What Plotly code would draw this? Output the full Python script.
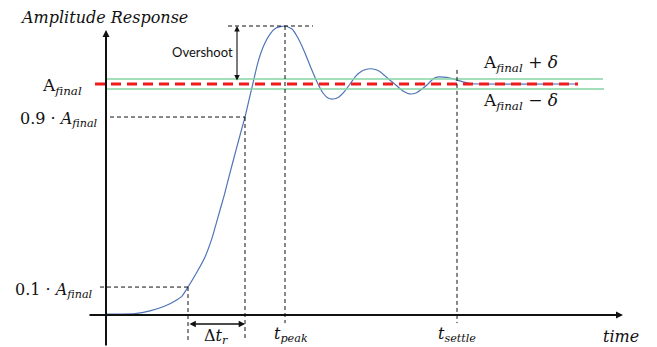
import plotly.graph_objects as go

# Step response curve (time in arbitrary units, amplitude normalised to A_final = 1)
time = [0, 1.4, 2.9, 4.4, 5.9, 6.9, 7.6, 8.2, 9.1, 9.9, 10.6, 11.2, 11.8, 12.4, 13.0,
        13.6, 13.9, 14.3, 14.7, 15.2, 15.8, 16.4, 17.0, 17.9, 18.6, 19.2, 19.9, 20.5,
        21.2, 21.7, 22.2, 22.7, 23.3, 23.9, 24.4, 25.0, 25.6, 26.2, 26.7, 27.3, 27.9,
        28.5, 29.1, 29.7, 30.4, 31.0, 31.6, 32.2, 32.7, 33.1, 33.7, 34.4, 35.1, 35.7,
        36.4, 37.4, 47.2]
amplitude = [0.004, 0.004, 0.006, 0.018, 0.039, 0.061, 0.082, 0.121, 0.186, 0.251, 0.333,
             0.424, 0.515, 0.615, 0.714, 0.810, 0.857, 0.931, 1.004, 1.095, 1.169,
             1.216, 1.242, 1.251, 1.238, 1.199, 1.134, 1.069, 1.0, 0.961, 0.939,
             0.935, 0.944, 0.970, 1.0, 1.035, 1.056, 1.065, 1.065, 1.056, 1.035,
             1.013, 0.991, 0.970, 0.957, 0.961, 0.978, 1.0, 1.022, 1.030, 1.030,
             1.026, 1.017, 1.009, 1.002, 1.0, 1.0]

# Characteristic levels and instants
a_final = 1.0
delta = 0.0216
level_10 = 0.121
level_90 = 0.857
a_peak = 1.251
t_10 = 8.2
t_90 = 13.9
t_peak = 17.9
t_settle = 35.1

# Plot window
x_range = [-10.6, 55.1]
y_range = [-0.1385, 1.3636]

MATH = "DejaVu Serif"
BLACK = "#111111"

fig = go.Figure()

fig.add_trace(go.Scatter(
    x=time, y=amplitude, mode="lines",
    line=dict(color="#4f74b8", width=1.2, shape="spline", smoothing=0.6),
    hoverinfo="skip", showlegend=False,
))


def hline(y, x0, x1, **line):
    fig.add_shape(type="line", xref="x", yref="y", x0=x0, x1=x1, y0=y, y1=y, line=line)


def vline(x, y0, y1, **line):
    fig.add_shape(type="line", xref="x", yref="y", x0=x, x1=x, y0=y0, y1=y1, line=line)


guide = dict(color=BLACK, width=1, dash="4px,3px")

# tolerance band and final value
hline(a_final + delta, 0, 49.7, color="#86d4a4", width=1.5)
hline(a_final - delta, 0, 49.8, color="#86d4a4", width=1.5)
hline(a_final, -1.1, 47.2, color="#ee1c1c", width=3, dash="10px,6px")

# guide lines
hline(level_90, 0.4, t_90, **guide)
hline(level_10, -0.6, t_10, **guide)
hline(a_peak, 12.2, 20.7, **guide)
vline(t_10, level_10, -0.108, **guide)
vline(t_90, level_90, -0.108, **guide)
vline(t_peak, a_peak, -0.035, **guide)
vline(t_settle, 1.061, -0.035, **guide)


def arrow(x, y, ax, ay, width=1.2, size=1.0, both=False):
    kw = dict(x=x, y=y, ax=ax, ay=ay, xref="x", yref="y", axref="x", ayref="y",
              text="", showarrow=True, arrowhead=2, arrowsize=size,
              arrowwidth=width, arrowcolor=BLACK, standoff=0, startstandoff=0)
    if both:
        kw.update(arrowside="end+start", startarrowhead=2, startarrowsize=size)
    fig.add_annotation(**kw)


# coordinate axes
arrow(0, 1.234, 0, y_range[0], width=2, size=0.7)
arrow(51.7, 0, -1.8, 0, width=2, size=0.7)
# overshoot and rise time markers
arrow(13.1, a_peak, 13.1, a_final + 0.009, width=1.1, size=1.0, both=True)
arrow(t_90, -0.039, t_10, -0.039, width=1.4, size=0.9, both=True)


def label(x, y, text, size=16, family=MATH, anchor="center"):
    fig.add_annotation(x=x, y=y, xref="x", yref="y", text=text, showarrow=False,
                       xanchor=anchor, yanchor="middle",
                       font=dict(family=family, size=size, color=BLACK))


label(-8.8, 1.290, "<i>Amplitude Response</i>", size=16, anchor="left")
label(-2.2, 0.99, "A<sub><i>final</i></sub>", size=17, anchor="right")
label(-0.6, 0.845, "0.9 · <i>A</i><sub><i>final</i></sub>", size=16, anchor="right")
label(-1.1, 0.108, "0.1 · <i>A</i><sub><i>final</i></sub>", size=16, anchor="right")
label(9.6, 1.14, "Overshoot", size=13, family="Lato")
label(11.0, -0.095, "Δ<i>t</i><sub><i>r</i></sub>", size=16)
label(18.5, -0.085, "<i>t</i><sub><i>peak</i></sub>", size=16)
label(t_settle, -0.085, "<i>t</i><sub><i>settle</i></sub>", size=16)
label(51.5, -0.095, "<i>time</i>", size=16)
label(41.4, 1.09, "A<sub><i>final</i></sub> + <i>δ</i>", size=17)
label(41.4, 0.925, "A<sub><i>final</i></sub> − <i>δ</i>", size=17)

fig.update_layout(
    width=657, height=347,
    margin=dict(l=0, r=0, t=0, b=0),
    paper_bgcolor="white", plot_bgcolor="white",
    xaxis=dict(range=x_range, visible=False, fixedrange=True),
    yaxis=dict(range=y_range, visible=False, fixedrange=True),
    showlegend=False,
)

fig.write_html("out.html")
